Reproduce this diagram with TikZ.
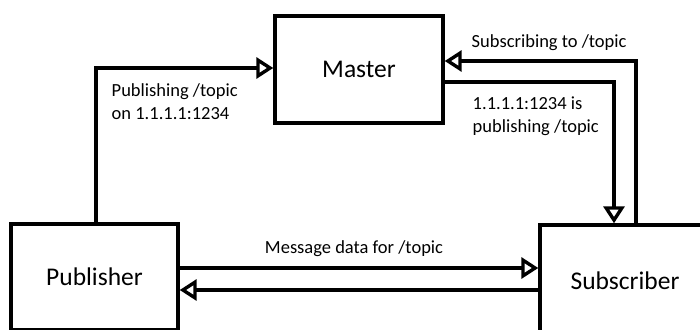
\documentclass[tikz,border=0pt]{standalone}
\usepackage{fontspec}
\setmainfont{Carlito}
\usetikzlibrary{arrows.meta}
\begin{document}
\begin{tikzpicture}[x=1pt,y=-1pt,line width=3.4pt,
  box/.style={draw,line width=3.4pt,inner sep=0pt,rectangle,font=\fontsize{25.5}{30}\selectfont},
  flow/.style={-{Triangle[open,length=17pt,width=21pt,line width=3.4pt,fill=white]},line join=miter},
  lbl/.style={font=\fontsize{18.5}{23}\selectfont,align=left,inner sep=0pt}]
\useasboundingbox (0,0) rectangle (700,329);
\clip (0,0) rectangle (700,329);
\node[box,minimum width=168pt,minimum height=107pt] (mas) at (359,69.5) {Master};
\node[box,minimum width=167pt,minimum height=106pt] (pub) at (94.5,277) {Publisher};
\node[box,minimum width=170pt,minimum height=112pt] (sub) at (625,281) {Subscriber};
\draw[flow] ([xshift=1.5pt]pub.north) |- ([yshift=1.5pt]mas.west);
\draw[flow] ([xshift=11pt]sub.north) |- ([yshift=8.5pt]mas.east);
\draw[flow] ([yshift=-12.5pt]mas.east) -| ([xshift=-11pt]sub.north);
\draw[flow] ([yshift=9pt]pub.east) -- ([yshift=9pt]pub.east -| sub.west);
\draw[flow] ([yshift=-13pt]pub.east -| sub.west) -- ([yshift=-13pt]pub.east);
\node[lbl,anchor=west] (l1) at (110,101.5) {Publishing /topic\\on 1.1.1.1:1234};
\node[lbl,anchor=west] (l2) at (470,43) {Subscribing to /topic};
\node[lbl,anchor=west] (l3) at (471,116.5) {1.1.1.1:1234 is\\publishing /topic};
\node[lbl] (l4) at (354,249) {Message data for /topic};
\end{tikzpicture}
\end{document}
